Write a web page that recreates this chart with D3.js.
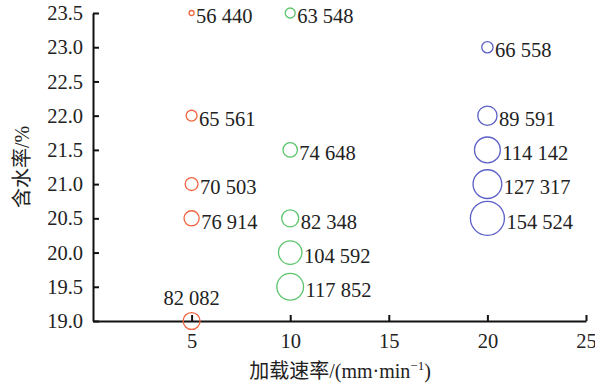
<!DOCTYPE html>
<html lang="zh">
<head>
  <meta charset="UTF-8">
  <title>含水率与加载速率</title>
  <style>
    body {
      margin: 0;
      padding: 0;
      background-color: #fff;
    }
    svg text {
      font-family: "Liberation Serif", "Noto Sans CJK SC", serif;
      fill: #222;
    }
  </style>
</head>
<body>
  <svg id="chart"></svg>

  <script src="https://d3js.org/d3.v7.min.js"></script>
  <script>
    // data
    const rates = [5, 10, 20];
    const seriesColors = ["#f0643f", "#5cc46c", "#5d60c6"];
    const moisture5 = [23.5, 22.0, 21.0, 20.5, 19.0];
    const values5 = [56440, 65561, 70503, 76914, 82082];
    const moisture10 = [23.5, 21.5, 20.5, 20.0, 19.5];
    const values10 = [63548, 74648, 82348, 104592, 117852];
    const moisture20 = [23.0, 22.0, 21.5, 21.0, 20.5];
    const values20 = [66558, 89591, 114142, 127317, 154524];
    const xTicks = [5, 10, 15, 20, 25];
    const yTicks = [19.0, 19.5, 20.0, 20.5, 21.0, 21.5, 22.0, 22.5, 23.0, 23.5];

    const width = 595;
    const height = 386;
    const margin = {top: 13, right: 9, bottom: 65, left: 93};

    const svg = d3.select("#chart")
      .attr("width", width)
      .attr("height", height);

    const x = d3.scaleLinear()
      .domain([0, 25])
      .range([margin.left, width - margin.right]);

    const y = d3.scaleLinear()
      .domain([19, 23.5])
      .range([height - margin.bottom, margin.top]);

    // bubble size
    const r = d3.scaleLog()
      .domain([56440, 63548, 154524])
      .range([2.5, 5, 17]);

    const points = [];
    [[moisture5, values5], [moisture10, values10], [moisture20, values20]].forEach((s, i) => {
      s[0].forEach((m, j) => {
        points.push({rate: rates[i], moisture: m, value: s[1][j], color: seriesColors[i]});
      });
    });

    const fmt = v => d3.format(",")(v).replace(",", " ");

    // axes
    const xAxis = svg.append("g")
      .attr("transform", `translate(0,${y(19)})`)
      .call(d3.axisBottom(x).tickValues(xTicks).tickSizeInner(-6).tickSizeOuter(0).tickPadding(12));

    const yAxis = svg.append("g")
      .attr("transform", `translate(${x(0)},0)`)
      .call(d3.axisLeft(y).tickValues(yTicks).tickFormat(d3.format(".1f")).tickSizeInner(-6).tickSizeOuter(0).tickPadding(10));

    [xAxis, yAxis].forEach(a => {
      a.select(".domain").attr("stroke", "#111").attr("stroke-width", 2);
      a.selectAll(".tick line").attr("stroke", "#111").attr("stroke-width", 2);
      a.selectAll(".tick text")
        .style("font-family", "'Liberation Serif', serif")
        .style("font-size", "20.5px")
        .attr("fill", "#333");
    });

    // bubbles
    svg.append("g")
      .selectAll("circle")
      .data(points)
      .join("circle")
      .attr("cx", d => x(d.rate))
      .attr("cy", d => y(d.moisture))
      .attr("r", d => r(d.value))
      .attr("fill", "none")
      .attr("stroke", d => d.color)
      .attr("stroke-width", 1.3);

    // value labels
    svg.append("g")
      .selectAll("text")
      .data(points)
      .join("text")
      .attr("x", d => d.moisture === 19 ? x(d.rate) : x(d.rate) + r(d.value) + 2)
      .attr("y", d => d.moisture === 19 ? y(d.moisture) - r(d.value) - 8 : y(d.moisture))
      .attr("dy", d => d.moisture === 19 ? 0 : "0.5em")
      .attr("text-anchor", d => d.moisture === 19 ? "middle" : "start")
      .style("font-size", "20.5px")
      .text(d => fmt(d.value));

    // axis titles
    svg.append("text")
      .attr("transform", `translate(29,${(y(19) + y(23.5)) / 2}) rotate(-90)`)
      .attr("text-anchor", "middle")
      .style("font-size", "20px")
      .attr("fill", "#333")
      .text("含水率/%");

    const xt = svg.append("text")
      .attr("x", 340)
      .attr("y", 378)
      .attr("text-anchor", "middle")
      .style("font-size", "20px")
      .attr("fill", "#333");
    xt.append("tspan").text("加载速率/(mm·min");
    xt.append("tspan").attr("dy", -8).style("font-size", "13px").text("−1");
    xt.append("tspan").attr("dy", 8).text(")");
  </script>
</body>
</html>
